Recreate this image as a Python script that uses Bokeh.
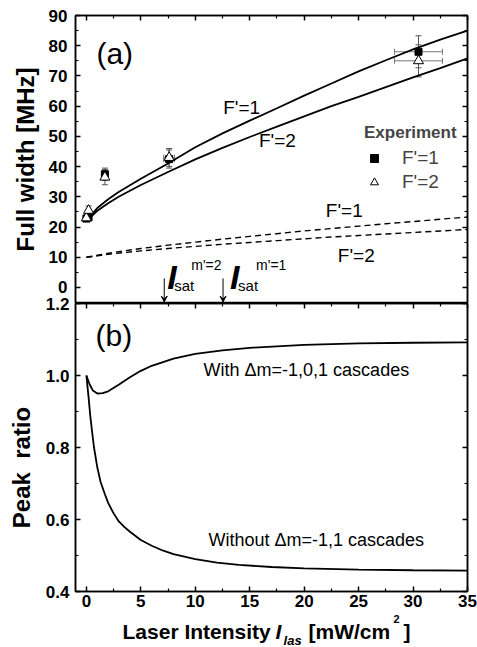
from bokeh.plotting import figure
from bokeh.layouts import column
from bokeh.models import (Range1d, LinearAxis, FixedTicker, Label, Arrow, VeeHead,
                          Whisker, TeeHead, ColumnDataSource, Legend, LegendItem,
                          CustomJSTickFormatter, PrintfTickFormatter)
from bokeh.embed import file_html
from bokeh.resources import INLINE

FONT = "Liberation Sans"

# ---------------- panel (a) data ----------------
fit_x = [0, 1, 2, 3, 5, 7.5, 10, 12.5, 15, 17.5, 20, 22.5, 25, 27.5, 30, 32.5, 35]
fit_f1 = [22, 26.3, 29.2, 31.7, 36.0, 41.0, 46.4, 51.0, 55.2, 59.3, 63.5, 67.5, 71.5, 75.2, 78.8, 82.0, 85.0]
fit_f2 = [22, 25.4, 27.9, 30.1, 33.9, 38.2, 42.4, 46.2, 49.8, 53.2, 56.6, 60.0, 63.1, 66.3, 69.5, 72.6, 75.8]

nat_x = [0, 2.5, 5, 7.5, 10, 12.5, 15, 17.5, 20, 22.5, 25, 27.5, 30, 32.5, 35]
nat_f1 = [10, 11.6, 12.9, 14.0, 15.0, 16.0, 16.9, 17.8, 18.7, 19.5, 20.3, 21.1, 21.8, 22.6, 23.3]
nat_f2 = [10, 11.2, 12.1, 12.9, 13.6, 14.3, 14.9, 15.5, 16.1, 16.7, 17.2, 17.7, 18.2, 18.7, 19.2]

exp_x = [0.0, 0.2, 1.7, 7.6, 30.5]
exp_x_err = [0.2, 0.2, 0.3, 0.5, 2.2]
exp_f1 = [22.8, 23.2, 37.5, 42.5, 78.0]
exp_f1_err = [1.0, 1.0, 2.0, 3.0, 5.3]
exp_f2 = [23.0, 25.5, 36.5, 43.0, 75.0]
exp_f2_err = [1.0, 1.5, 2.5, 3.0, 5.3]

isat_x = [7.15, 12.55]
isat_tags = ["m'=2", "m'=1"]

# ---------------- panel (b) data ----------------
with_x = [0, 0.3, 0.6, 1.0, 1.5, 2, 3, 4, 5, 6, 8, 10, 12.5, 15, 20, 25, 30, 35]
with_y = [1.0, 0.975, 0.958, 0.950, 0.951, 0.956, 0.975, 0.995, 1.013, 1.027, 1.047,
          1.060, 1.070, 1.077, 1.085, 1.089, 1.091, 1.092]
without_x = [0, 0.1, 0.2, 0.35, 0.5, 0.7, 1.0, 1.3, 1.7, 2.0, 2.5, 3, 3.5, 4, 5, 6, 7, 8,
             10, 12, 14, 17, 20, 25, 30, 35]
without_y = [1.0, 0.97, 0.94, 0.89, 0.85, 0.80, 0.745, 0.705, 0.67, 0.646, 0.617, 0.594,
             0.579, 0.566, 0.543, 0.527, 0.514, 0.504, 0.490, 0.480, 0.474, 0.468, 0.464,
             0.461, 0.459, 0.458]

# ---------------- ticks ----------------
x_major = [0, 5, 10, 15, 20, 25, 30, 35]
x_minor = [2.5, 7.5, 12.5, 17.5, 22.5, 27.5, 32.5]
ya_major = [0, 10, 20, 30, 40, 50, 60, 70, 80, 90]
ya_minor = [-5, 5, 15, 25, 35, 45, 55, 65, 75, 85]
yb_major = [0.4, 0.6, 0.8, 1.0, 1.2]
yb_minor = [0.5, 0.7, 0.9, 1.1]


def style_axis(ax, major, minor, labels):
    ax.ticker = FixedTicker(ticks=major, minor_ticks=minor)
    ax.major_tick_in = 5
    ax.major_tick_out = 0
    ax.minor_tick_in = 3
    ax.minor_tick_out = 0
    ax.axis_line_width = 1.5
    ax.axis_line_color = "black"
    ax.major_tick_line_width = 1.5
    ax.minor_tick_line_width = 1.2
    ax.major_tick_line_color = "black"
    ax.minor_tick_line_color = "black"
    if labels:
        ax.major_label_text_font = FONT
        ax.major_label_text_font_style = "bold"
        ax.major_label_text_font_size = "17px"
        ax.major_label_text_color = "black"
        ax.major_label_standoff = 8
    else:
        ax.formatter = CustomJSTickFormatter(code="return ''")
        ax.major_label_text_font_size = "1px"
        ax.major_label_standoff = 0


def txt(p, x, y, s, size, style="normal", align="left", baseline="middle", xo=0, yo=0):
    p.add_layout(Label(x=x, y=y, text=s, text_font=FONT, text_font_size=f"{size}px",
                       text_font_style=style, text_align=align, text_baseline=baseline,
                       x_offset=xo, y_offset=yo, text_color="black"))


def base_fig(**kw):
    p = figure(output_backend="svg", toolbar_location=None, **kw)
    p.grid.visible = False
    p.background_fill_color = "white"
    p.border_fill_color = "white"
    return p


# ================= panel (a) =================
p1 = base_fig(width=477, height=303, x_range=Range1d(-1, 35), y_range=Range1d(-5.3, 90),
              x_axis_location=None, y_axis_location="left",
              min_border_left=74, min_border_right=10, min_border_top=15, min_border_bottom=0)
p1.outline_line_color = "black"
p1.outline_line_width = 1.5

ly = p1.yaxis[0]
style_axis(ly, ya_major, ya_minor, True)
ly.axis_label = "Full width [MHz]"
ly.axis_label_text_font = FONT
ly.axis_label_text_font_style = "bold"
ly.axis_label_text_font_size = "24px"
ly.axis_label_text_color = "black"
ly.axis_label_standoff = 7

top1 = LinearAxis()
style_axis(top1, x_major, x_minor, False)
p1.add_layout(top1, "above")
right1 = LinearAxis()
style_axis(right1, ya_major, ya_minor, False)
p1.add_layout(right1, "right")

p1.line(fit_x, fit_f1, line_color="black", line_width=1.8)
p1.line(fit_x, fit_f2, line_color="black", line_width=1.8)
p1.line(nat_x, nat_f1, line_color="black", line_width=1.4, line_dash="6 4")
p1.line(nat_x, nat_f2, line_color="black", line_width=1.4, line_dash="6 4")

for ys, es in ((exp_f1, exp_f1_err), (exp_f2, exp_f2_err)):
    src = ColumnDataSource(dict(
        x=exp_x, y=ys,
        lo=[y - e for y, e in zip(ys, es)], hi=[y + e for y, e in zip(ys, es)],
        xlo=[x - e for x, e in zip(exp_x, exp_x_err)], xhi=[x + e for x, e in zip(exp_x, exp_x_err)]))
    p1.add_layout(Whisker(source=src, base="x", lower="lo", upper="hi", dimension="height",
                          line_color="#555555", line_width=1,
                          lower_head=TeeHead(size=6, line_color="#555555", line_width=1),
                          upper_head=TeeHead(size=6, line_color="#555555", line_width=1)))
    p1.add_layout(Whisker(source=src, base="y", lower="xlo", upper="xhi", dimension="width",
                          line_color="#777777", line_width=1,
                          lower_head=TeeHead(size=6, line_color="#777777", line_width=1),
                          upper_head=TeeHead(size=6, line_color="#777777", line_width=1)))

sq = p1.scatter(exp_x, exp_f1, marker="square", size=7, fill_color="black", line_color="black")
tri = p1.scatter(exp_x, exp_f2, marker="triangle", size=10, fill_color="white",
                 line_color="black", line_width=1)

legend = Legend(items=[LegendItem(label="F'=1", renderers=[sq]),
                       LegendItem(label="F'=2", renderers=[tri])],
                title="Experiment", location=(289, 110))
legend.title_text_font = FONT
legend.title_text_font_style = "bold"
legend.title_text_font_size = "17px"
legend.label_text_font = FONT
legend.label_text_font_size = "19px"
legend.border_line_color = None
legend.background_fill_alpha = 0
legend.padding = 0
legend.margin = 0
legend.glyph_width = 20
legend.glyph_height = 20
legend.label_height = 20
legend.label_standoff = 18
legend.spacing = 2
legend.title_standoff = 4
p1.add_layout(legend)

txt(p1, 0.92, 77.4, "(a)", 30)
txt(p1, 12.56, 59.6, "F'=1", 19)
txt(p1, 15.85, 48.6, "F'=2", 19)
txt(p1, 21.99, 25.5, "F'=1", 19)
txt(p1, 23.09, 10.6, "F'=2", 19)

arr_src = ColumnDataSource(dict(x=isat_x, y0=[3.0, 3.0], y1=[-4.8, -4.8]))
p1.add_layout(Arrow(source=arr_src, x_start="x", y_start="y0", x_end="x", y_end="y1",
                    line_color="black", line_width=1,
                    end=VeeHead(size=6, line_color="black", line_width=1, fill_color="black")))
i_off = [(3, 10, 27), (7, 15, 33)]
for xi, tag, (o1, o2, o3) in zip(isat_x, isat_tags, i_off):
    txt(p1, xi, 3.6, "I", 34, style="bold italic", baseline="middle", xo=o1)
    txt(p1, xi, 0.5, "sat", 15, baseline="middle", xo=o2)
    txt(p1, xi, 7.6, tag, 14, baseline="middle", xo=o3)

# ================= panel (b) =================
# its canvas overlaps the bottom 10 px of panel (a) (transparent border) so that
# the "1.2" tick label can straddle the boundary between the two panels
OVER = 10
p2 = base_fig(width=477, height=311 + OVER, x_range=Range1d(-1, 35), y_range=Range1d(0.4, 1.2),
              min_border_left=75, min_border_right=10, min_border_top=OVER, min_border_bottom=23)
p2.border_fill_alpha = 0
p2.margin = (-OVER, 0, 0, 0)
p2.outline_line_color = "black"
p2.outline_line_width = 1.5

bx = p2.xaxis[0]
style_axis(bx, x_major, x_minor, True)
bx.major_label_standoff = 3
by = p2.yaxis[0]
style_axis(by, yb_major, yb_minor, True)
by.major_label_standoff = 6
by.formatter = PrintfTickFormatter(format="%.1f")
NB = "\u00a0"
by.axis_label = "Peak" + NB * 2 + "ratio" + NB * 6
by.axis_label_text_font = FONT
by.axis_label_text_font_style = "bold"
by.axis_label_text_font_size = "24px"
by.axis_label_text_color = "black"
by.axis_label_standoff = 8

top2 = LinearAxis()
style_axis(top2, x_major, x_minor, False)
p2.add_layout(top2, "above")
right2 = LinearAxis()
style_axis(right2, yb_major, yb_minor, False)
p2.add_layout(right2, "right")

p2.line(with_x, with_y, line_color="black", line_width=1.8)
p2.line(without_x, without_y, line_color="black", line_width=1.8)

txt(p2, 0.84, 1.111, "(b)", 30)
txt(p2, 10.76, 1.014, "With \u0394m=-1,0,1 cascades", 18)
txt(p2, 11.21, 0.542, "Without \u0394m=-1,1 cascades", 18)

# ================= x-axis title strip =================
p3 = base_fig(width=477, height=33, x_range=p2.x_range, y_range=Range1d(0, 33),
              x_axis_location=None, y_axis_location=None,
              min_border_left=75, min_border_right=10, min_border_top=0, min_border_bottom=0)
p3.outline_line_color = None

ax0 = 3.32
txt(p3, ax0, 16, "Laser Intensity", 21, style="bold")
txt(p3, ax0, 16, "I", 21, style="bold italic", xo=153)
txt(p3, ax0, 7, "las", 13, style="bold italic", xo=161)
txt(p3, ax0, 16, "[mW/cm", 21, style="bold", xo=186)
txt(p3, ax0, 28.5, "2", 11, style="bold", xo=271)
txt(p3, ax0, 16, "]", 21, style="bold", xo=281)

layout = column(p1, p2, p3, spacing=0)
open("out.html", "w").write(file_html(layout, INLINE))
